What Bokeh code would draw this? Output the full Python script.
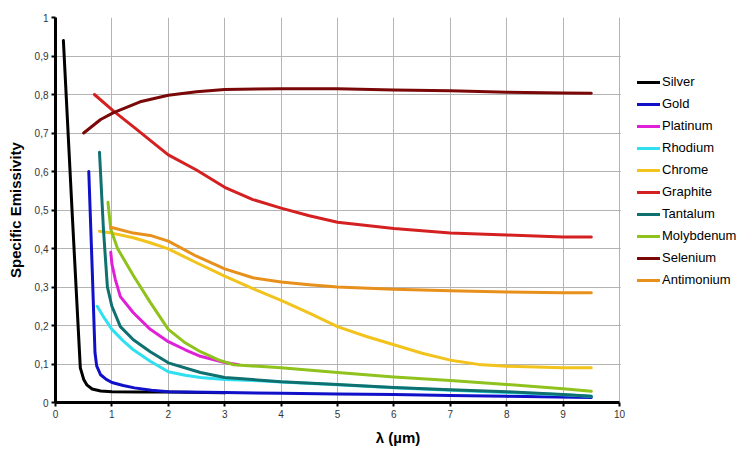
from bokeh.plotting import figure
from bokeh.models import Range1d, FixedTicker, Legend, LegendItem, BoxAnnotation
from bokeh.embed import file_html
from bokeh.resources import INLINE

# ---- data ----
names = ["Silver", "Gold", "Platinum", "Rhodium", "Chrome", "Graphite",
         "Tantalum", "Molybdenum", "Selenium", "Antimonium"]
colors = ["#000000", "#1010c8", "#e020d8", "#30e0f0", "#f2c31c", "#d42020",
          "#0f7070", "#8fc21c", "#7a0808", "#e8901c"]

silver_x = [0.14, 0.30, 0.44, 0.50, 0.56, 0.65, 0.80, 1.0, 1.5, 2.0, 3.0]
silver_y = [0.94, 0.48, 0.09, 0.06, 0.045, 0.035, 0.030, 0.028, 0.027, 0.027, 0.025]

gold_x = [0.59, 0.65, 0.70, 0.73, 0.80, 0.90, 1.0, 1.2, 1.4, 1.7, 2.0, 3.0, 4.0, 5.0, 6.0, 7.0, 8.0, 9.5]
gold_y = [0.60, 0.35, 0.13, 0.095, 0.072, 0.060, 0.052, 0.044, 0.038, 0.032, 0.028, 0.026, 0.024, 0.022, 0.021, 0.018, 0.016, 0.013]

platinum_x = [0.98, 1.0, 1.06, 1.15, 1.38, 1.68, 2.0, 2.3, 2.57, 3.0, 3.25]
platinum_y = [0.39, 0.36, 0.32, 0.275, 0.233, 0.19, 0.158, 0.137, 0.12, 0.104, 0.098]

rhodium_x = [0.74, 0.85, 1.0, 1.2, 1.38, 1.68, 2.0, 2.3, 2.57, 3.0, 3.5, 4.0, 5.0, 6.0, 7.0, 8.0, 9.0, 9.5]
rhodium_y = [0.25, 0.223, 0.19, 0.16, 0.137, 0.107, 0.08, 0.071, 0.065, 0.06, 0.057, 0.053, 0.046, 0.038, 0.032, 0.026, 0.02, 0.016]

chrome_x = [0.78, 1.0, 1.38, 1.68, 2.0, 2.5, 3.0, 3.5, 4.0, 4.5, 5.0, 5.5, 6.0, 6.5, 7.0, 7.5, 8.0, 9.0, 9.5]
chrome_y = [0.445, 0.44, 0.428, 0.415, 0.399, 0.363, 0.328, 0.296, 0.265, 0.232, 0.197, 0.172, 0.15, 0.128, 0.11, 0.099, 0.094, 0.09, 0.09]

graphite_x = [0.69, 1.03, 1.4, 1.68, 2.0, 2.5, 3.0, 3.5, 4.0, 4.5, 5.0, 6.0, 7.0, 8.0, 9.0, 9.5]
graphite_y = [0.80, 0.757, 0.714, 0.681, 0.643, 0.604, 0.559, 0.527, 0.505, 0.485, 0.468, 0.452, 0.44, 0.435, 0.43, 0.43]

tantalum_x = [0.78, 0.85, 0.92, 1.0, 1.15, 1.38, 1.68, 2.0, 2.57, 3.0, 4.0, 5.0, 6.0, 7.0, 8.0, 9.0, 9.5]
tantalum_y = [0.65, 0.45, 0.30, 0.25, 0.197, 0.163, 0.132, 0.103, 0.078, 0.065, 0.054, 0.047, 0.039, 0.033, 0.028, 0.021, 0.016]

molybdenum_x = [0.93, 0.98, 1.1, 1.38, 1.68, 2.0, 2.3, 2.57, 2.9, 3.16, 4.0, 5.0, 6.0, 7.0, 8.0, 9.0, 9.5]
molybdenum_y = [0.52, 0.45, 0.40, 0.33, 0.26, 0.19, 0.155, 0.132, 0.11, 0.098, 0.09, 0.078, 0.066, 0.057, 0.047, 0.036, 0.029]

selenium_x = [0.5, 0.8, 1.03, 1.5, 2.0, 2.5, 3.0, 4.0, 5.0, 6.0, 7.0, 8.0, 9.0, 9.5]
selenium_y = [0.70, 0.735, 0.753, 0.781, 0.798, 0.807, 0.813, 0.815, 0.815, 0.812, 0.81, 0.806, 0.804, 0.803]

antimonium_x = [0.98, 1.38, 1.68, 2.0, 2.5, 3.0, 3.5, 4.0, 4.5, 5.0, 6.0, 7.0, 8.0, 9.0, 9.5]
antimonium_y = [0.455, 0.44, 0.434, 0.419, 0.38, 0.347, 0.324, 0.313, 0.306, 0.300, 0.294, 0.29, 0.287, 0.285, 0.285]

xs = [silver_x, gold_x, platinum_x, rhodium_x, chrome_x, graphite_x,
      tantalum_x, molybdenum_x, selenium_x, antimonium_x]
ys = [silver_y, gold_y, platinum_y, rhodium_y, chrome_y, graphite_y,
      tantalum_y, molybdenum_y, selenium_y, antimonium_y]

x_min, x_max = 0, 10
y_min, y_max = 0, 1
x_ticks = list(range(0, 11))
y_ticks = [0, 0.1, 0.2, 0.3, 0.4, 0.5, 0.6, 0.7, 0.8, 0.9, 1.0]
y_tick_labels = ["0", "0,1", "0,2", "0,3", "0,4", "0,5", "0,6", "0,7", "0,8", "0,9", "1"]

FONT = "Liberation Sans"

# layout (pixels)
W, H = 740, 448
LEFT, TOP, BOTTOM = 55, 17, 45
PLOT_W = 564                     # pixel width of the 0..10 data area
frame_w = W - LEFT               # frame runs to the right edge; legend sits in it
x_view_end = x_max * frame_w / PLOT_W

p = figure(width=W, height=H, output_backend="svg", toolbar_location=None,
           x_range=Range1d(x_min, x_view_end), y_range=Range1d(y_min, y_max),
           min_border_left=LEFT, min_border_right=0, min_border_top=TOP, min_border_bottom=BOTTOM)
p.background_fill_color = "white"
p.border_fill_color = "white"
p.outline_line_color = None

p.xaxis.ticker = FixedTicker(ticks=x_ticks)
p.yaxis.ticker = FixedTicker(ticks=y_ticks)
p.xaxis.bounds = (x_min, x_max)
p.yaxis.major_label_overrides = {t: l for t, l in zip(y_ticks, y_tick_labels)}
p.xaxis.axis_label = "λ (µm)"
p.yaxis.axis_label = "Specific Emissivity"

for ax in (p.xaxis, p.yaxis):
    ax.axis_line_color = "black"
    ax.axis_line_width = 3
    ax.major_tick_line_color = "black"
    ax.major_tick_line_width = 2
    ax.major_tick_out = 4
    ax.major_tick_in = 0
    ax.minor_tick_line_color = None
    ax.major_label_text_font = FONT
    ax.major_label_text_font_size = "10px"
    ax.major_label_text_color = "#333333"
    ax.major_label_standoff = 3
    ax.axis_label_text_font = FONT
    ax.axis_label_text_font_size = "15px"
    ax.axis_label_text_font_style = "bold"
    ax.axis_label_text_color = "black"
p.yaxis.axis_label_standoff = 8
p.xaxis.axis_label_standoff = 8

p.grid.grid_line_color = "#b4b4b4"
p.grid.grid_line_width = 1

items = []
for name, c, x, y in zip(names, colors, xs, ys):
    r = p.line(x, y, line_color=c, line_width=3, line_join="round", line_cap="round")
    items.append(LegendItem(label=name, renderers=[r]))

# white cover for the legend area right of the data area
px_unit = x_max / PLOT_W
p.add_layout(BoxAnnotation(left=x_max + 1.2 * px_unit, fill_color="white", fill_alpha=1,
                           line_alpha=0, level="annotation"))

legend = Legend(items=items, location=(582, 115), padding=0, margin=0,
                glyph_width=23, glyph_height=14, label_height=14, spacing=7,
                label_standoff=2, label_text_font=FONT, label_text_font_size="13px",
                label_text_color="black", border_line_alpha=0, background_fill_alpha=0)
p.add_layout(legend, "center")

open("out.html", "w").write(file_html(p, INLINE))
